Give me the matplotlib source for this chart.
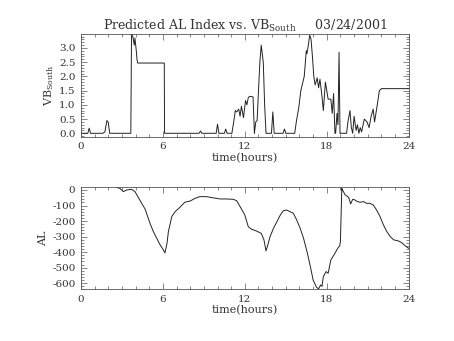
import matplotlib
matplotlib.use("Agg")
from matplotlib import pyplot as plt
from matplotlib.ticker import MultipleLocator

plt.rcParams['font.family'] = ['DejaVu Serif']
plt.rcParams['mathtext.fontset'] = 'dejavuserif'
plt.rcParams['axes.unicode_minus'] = False

# VB_South (solar wind driver), hours since 00 UT
vb_hours = [0.0, 0.5, 0.6, 0.7, 1.6, 1.75, 1.9, 2.0, 2.1, 3.65, 3.7, 3.8, 3.9, 3.95, 4.05, 4.1, 4.15,
            6.1, 6.12, 8.65, 8.75, 8.85, 9.9, 10.0, 10.1, 10.5, 10.6, 10.7, 11.05, 11.2, 11.3, 11.4,
            11.55, 11.65, 11.75, 11.9, 12.05, 12.15, 12.25, 12.35, 12.6, 12.7, 12.75, 12.8, 12.9,
            13.0, 13.1, 13.2, 13.35, 13.45, 13.55, 13.6, 13.95, 14.05, 14.15, 14.8, 14.9, 15.0,
            15.65, 15.8, 15.95, 16.1, 16.2, 16.35, 16.5, 16.55, 16.65, 16.75, 16.85, 16.95, 17.05,
            17.15, 17.3, 17.4, 17.5, 17.65, 17.75, 17.9, 18.1, 18.3, 18.4, 18.5, 18.6, 18.65,
            18.75, 18.82, 18.9, 18.97, 19.0, 19.45, 19.55, 19.7, 19.8, 19.9, 20.0, 20.15, 20.25,
            20.35, 20.45, 20.55, 20.75, 20.95, 21.1, 21.25, 21.4, 21.5, 21.7, 21.85, 22.0, 24.0]
vb_south = [0.0, 0.0, 0.18, 0.0, 0.0, 0.05, 0.45, 0.38, 0.0, 0.0, 3.48, 3.4, 3.1, 3.35, 2.9, 2.6, 2.47,
            2.47, 0.0, 0.0, 0.08, 0.0, 0.0, 0.32, 0.0, 0.0, 0.15, 0.0, 0.0, 0.45, 0.8, 0.75,
            0.85, 0.6, 0.95, 0.55, 1.15, 1.0, 1.25, 1.3, 1.28, 0.0, 0.2, 0.4, 0.45,
            1.5, 2.5, 3.1, 2.5, 1.0, 0.0, 0.0, 0.0, 0.75, 0.0, 0.0, 0.15, 0.0,
            0.0, 0.5, 0.9, 1.5, 1.7, 2.0, 2.9, 2.8, 3.1, 3.45, 3.3, 2.7, 2.0,
            1.7, 1.95, 1.6, 1.9, 1.3, 0.8, 1.8, 1.2, 1.2, 0.7, 1.4, 0.0, 0.0,
            0.7, 0.3, 2.85, 0.0, 0.0, 0.0, 0.4, 0.8, 0.2, 0.0, 0.6, 0.1, 0.3,
            0.0, 0.2, 0.05, 0.5, 0.4, 0.2, 0.6, 0.85, 0.4, 1.0, 1.5, 1.57, 1.57]

# predicted AL index (nT)
al_hours = [2.6, 2.85, 3.1, 3.35, 3.7, 3.95, 4.3, 4.7, 5.05, 5.3, 5.55, 5.8, 6.0, 6.15, 6.3, 6.4,
            6.65, 6.9, 7.25, 7.6, 8.0, 8.35, 8.7, 9.2, 9.7, 10.2, 10.65, 11.15, 11.4, 11.65, 12.0,
            12.25, 12.5, 12.85, 13.2, 13.4, 13.55, 13.65, 13.85, 14.1, 14.35, 14.6, 14.8, 15.05,
            15.3, 15.55, 15.8, 16.05, 16.3, 16.55, 16.8, 17.0, 17.25, 17.4, 17.55, 17.65, 17.75,
            17.95, 18.1, 18.3, 18.6, 18.85, 18.95, 19.0, 19.1, 19.15, 19.35, 19.6, 19.75, 19.9,
            20.05, 20.25, 20.45, 20.7, 20.9, 21.15, 21.4, 21.65, 21.9, 22.15, 22.4, 22.65, 22.9,
            23.25, 23.5, 23.75, 24.0]
al_index = [17, 10, -11, 0, 4, -10, -64, -124, -214, -268, -311, -354, -381, -405, -343, -268,
            -171, -139, -111, -79, -71, -54, -43, -43, -51, -58, -58, -60, -69, -107, -161,
            -236, -253, -264, -279, -321, -392, -364, -300, -246, -204, -161, -135, -129,
            -139, -150, -193, -246, -311, -396, -493, -579, -626, -636, -611, -620, -557,
            -525, -536, -450, -407, -368, -360, -332, 10, 0, -32, -47, -90, -60,
            -64, -75, -79, -75, -86, -86, -96, -129, -171, -225, -268, -300, -321,
            -328, -339, -360, -375]

fig = plt.figure(figsize=(4.54, 3.41), dpi=100)
ax1 = fig.add_axes([0.1784, 0.5991, 0.7218, 0.3003])
ax2 = fig.add_axes([0.1784, 0.1525, 0.7218, 0.2982])

ax1.plot(vb_hours, vb_south, color='#222222', lw=0.7)
ax1.set_xlim(0, 24)
ax1.set_ylim(-0.12, 3.48)
ax1.yaxis.set_major_locator(MultipleLocator(0.5))
ax1.yaxis.set_minor_locator(MultipleLocator(0.1))
ax1.yaxis.set_major_formatter(lambda v, p: f"{v:.1f}")
ax1.set_ylabel(r'VB$_{\rm South}$', fontsize=8, labelpad=2, color='#333333')
ax1.set_title(r'Predicted AL Index vs. VB$_{\rm South}$     03/24/2001', fontsize=9, pad=3,
              color='#333333')

ax2.plot(al_hours, al_index, color='#222222', lw=0.7)
ax2.set_xlim(0, 24)
ax2.set_ylim(-637, 17)
ax2.yaxis.set_major_locator(MultipleLocator(100))
ax2.yaxis.set_minor_locator(MultipleLocator(20))
ax2.yaxis.set_major_formatter(lambda v, p: f"{v:.0f}")
ax2.set_ylabel('AL', fontsize=8, labelpad=3, color='#333333')

for ax in (ax1, ax2):
    ax.set_xlabel('time(hours)', fontsize=8, labelpad=1, color='#333333')
    ax.xaxis.set_major_locator(MultipleLocator(6))
    ax.xaxis.set_minor_locator(MultipleLocator(1))
    ax.tick_params(which='both', direction='in', top=True, right=True, labelsize=7.5,
                   colors='#555555', labelcolor='#333333', width=0.5)
    ax.tick_params(which='major', length=4, pad=4)
    ax.tick_params(which='minor', length=2)
    for s in ax.spines.values():
        s.set_linewidth(0.6)
        s.set_color('#555555')

plt.savefig('out.png', dpi=100)
